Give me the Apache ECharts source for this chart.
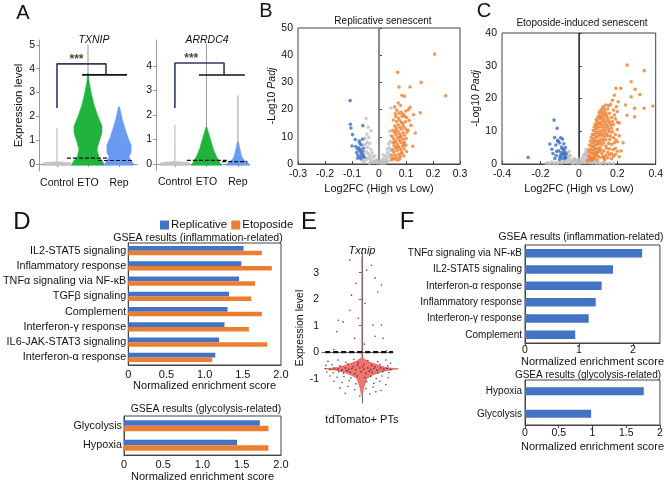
<!DOCTYPE html>
<html>
<head>
<meta charset="utf-8">
<script src="https://cdn.jsdelivr.net/npm/echarts@6/dist/echarts.min.js"></script>
<style>
html,body{margin:0;padding:0;background:#fff}
#main{width:666px;height:483px}
</style>
</head>
<body>
<div id="main"></div>
<script>
var FONT = 'Liberation Sans';
var BLUE = '#4472C4', ORANGE = '#ED7D31';

// ---- panel A : violin profiles (level, half width in category units)
var violinCats = ['Control', 'ETO', 'Rep'];
var txCtrlLv = [-0.06, 0.06, 0.1, 1.5];
var txCtrlHw = [0.45, 0.45, 0.01, 0.008];
var txEtoLv = [-0.05, 0.1, 0.3, 0.6, 0.9, 1.3, 1.6, 2.0, 2.5, 3.0, 3.5, 3.8];
var txEtoHw = [0.52, 0.48, 0.35, 0.29, 0.35, 0.45, 0.45, 0.32, 0.19, 0.1, 0.03, 0.016];
var txRepLv = [-0.05, 0.1, 0.3, 0.5, 0.8, 1.1, 1.5, 1.9, 2.4];
var txRepHw = [0.48, 0.42, 0.32, 0.39, 0.39, 0.29, 0.19, 0.1, 0.016];
var arCtrlLv = [-0.06, 0.06, 0.1, 1.6];
var arCtrlHw = [0.45, 0.45, 0.01, 0.008];
var arEtoLv = [-0.05, 0.1, 0.3, 0.6, 1.0, 1.3, 1.5];
var arEtoHw = [0.48, 0.41, 0.32, 0.22, 0.13, 0.06, 0.016];
var arRepLv = [-0.05, 0.05, 0.2, 0.4, 0.7, 0.9];
var arRepHw = [0.38, 0.32, 0.16, 0.1, 0.05, 0.016];
// tails [x, from, to]
var txTails = [[2, 3.5, 5.0]];
var arTails = [[2, 1.4, 4.9], [3, 0.8, 2.8]];
// brackets
var txBracket = [[1, 2.35], [1, 4.2], [2.58, 4.2], [2.58, 3.74]];
var txBar = [[1.81, 3.74], [3.26, 3.74]];
var arBracket = [[1, 2.29], [1, 4.12], [2.56, 4.12], [2.56, 3.63]];
var arBar = [[1.76, 3.63], [3.22, 3.63]];
var txStars = [1.63, 4.38];
var arStars = [1.52, 4.3];
// medians
var txEtoMed = [[1.32, 0.25], [2.65, 0.25]];
var txRepMed = [[2.32, 0.15], [3.45, 0.15]];
var arEtoMed = [[1.38, 0.15], [2.65, 0.15]];
var arRepMed = [[2.5, 0.1], [3.3, 0.1]];

// ---- panel B : replicative volcano
var bBlue = [[-0.107,23.3],[-0.106,14.6],[-0.104,13.2],[-0.06,14.1],[-0.098,10.8],[-0.088,9.0],[-0.073,8.4],[-0.061,9.1],[-0.1,6.6],[-0.086,6.4],[-0.083,4.2],[-0.08,5.5],[-0.078,3.2],[-0.075,6.0],[-0.072,4.8],[-0.07,2.6],[-0.068,5.3],[-0.066,3.9],[-0.064,7.0],[-0.062,2.9],[-0.06,4.6],[-0.058,3.4],[-0.057,5.8],[-0.055,2.4],[-0.071,7.5],[-0.079,2.1],[-0.067,1.9]];
var bGray = [[-0.048,16.7],[-0.04,13.5],[-0.045,11.0],[-0.03,12.2],[-0.052,9.5],[-0.044,8.0],[-0.038,9.8],[-0.05,7.2],[-0.042,6.1],[-0.035,7.5],[-0.03,5.2],[-0.047,4.5],[-0.04,3.8],[-0.033,3.0],[-0.025,4.1],[-0.05,2.5],[-0.045,1.6],[-0.038,2.2],[-0.03,1.5],[-0.022,2.6],[-0.018,1.2],[-0.012,0.8],[-0.008,1.6],[-0.005,0.4],[0,0.9],[0.004,0.5],[0.008,1.3],[0.012,0.7],[0.016,2.0],[0.02,1.1],[0.024,3.0],[0.028,1.8],[0.032,4.2],[0.035,2.6],[0.038,6.0],[0.04,3.5],[0.042,8.3],[0.043,5.0],[0.036,7.4],[0.03,5.5],[0.044,10.5],[0.04,12.0],[0.044,20.6],[0.02,0.3],[-0.02,0.5],[0.01,0.2],[-0.015,2.9],[-0.028,0.7],[0.026,0.5],[0.034,1.0],[0.045,2.0],[-0.055,0.8],[-0.06,1.2],[0.015,3.4],[-0.035,0.3]];
var bOrange = [[0.206,40.4],[0.069,33.7],[0.074,28.3],[0.115,28.3],[0.156,30.0],[0.247,25.1],[0.094,24.9],[0.071,22.4],[0.115,20.8],[0.109,20],[0.153,18.8],[0.128,18.1],[0.096,17.5],[0.088,14.8],[0.134,11.4],[0.125,6.5],[0.08,21.5],[0.082,19.0],[0.09,18.3],[0.1,19.5],[0.103,17.0],[0.112,16.0],[0.098,15.5],[0.118,14.2],[0.107,12.5],[0.085,25.3],[0.058,21.0],[0.062,17.5],
[0.048,3.1],[0.05,5.2],[0.052,7.8],[0.049,10.1],[0.051,12.4],[0.053,2.0],[0.055,4.4],[0.056,6.7],[0.054,9.3],[0.057,11.6],[0.058,14.0],[0.06,3.3],[0.061,5.9],[0.062,8.5],[0.063,10.8],[0.064,13.1],[0.065,15.6],[0.066,2.4],[0.067,4.9],[0.068,7.2],[0.069,9.7],[0.07,12.0],[0.071,14.4],[0.072,16.8],[0.073,3.6],[0.074,6.1],[0.075,8.6],[0.076,11.0],[0.077,13.5],[0.078,15.9],[0.079,2.8],[0.08,5.3],[0.081,7.9],[0.082,10.3],[0.083,12.8],[0.084,15.2],[0.085,17.6],[0.086,4.2],[0.087,6.6],[0.088,9.1],[0.089,11.5],[0.09,13.9],[0.092,3.0],[0.093,5.6],[0.094,8.0],[0.095,10.6],[0.097,13.0],[0.099,6.9],[0.1,9.4],[0.102,4.6],[0.104,11.8],[0.047,1.5],[0.059,1.8],[0.07,1.4],[0.077,1.9],[0.053,16.2],[0.06,18.5],[0.066,19.8],[0.074,18.7],[0.062,12.2],[0.058,8.0],[0.07,6.3],[0.078,9.8],[0.083,4.0],[0.091,7.4]];

// ---- panel C : etoposide volcano
var cBlue = [[-0.264,2.0],[-0.129,13.4],[-0.113,10.9],[-0.126,8.1],[-0.151,6.1],[-0.14,4.5],[-0.135,3.2],[-0.12,5.8],[-0.118,2.6],[-0.11,7.2],[-0.105,4.0],[-0.1,6.4],[-0.098,2.2],[-0.095,8.0],[-0.092,3.5],[-0.09,5.2],[-0.088,1.8],[-0.085,7.6],[-0.083,2.9],[-0.08,4.4],[-0.078,6.2],[-0.076,1.6],[-0.074,3.8],[-0.072,2.4],[-0.07,5.0],[-0.068,1.9],[-0.066,3.1],[-0.1,1.4],[-0.115,3.9],[-0.125,1.7],[-0.108,6.9],[-0.087,4.7],[-0.094,2.7],[-0.079,3.3],[-0.071,2.0]];
var cGray = [[-0.16,0.3],[-0.14,0.6],[-0.12,0.4],[-0.1,0.8],[-0.09,0.3],[-0.08,0.7],[-0.07,1.0],[-0.06,0.5],[-0.055,1.5],[-0.05,2.3],[-0.045,0.8],[-0.04,1.2],[-0.035,0.4],[-0.03,0.9],[-0.025,1.6],[-0.02,0.5],[-0.015,1.1],[-0.01,0.3],[-0.005,0.7],[0,0.2],[0.005,0.6],[0.01,1.2],[0.015,0.4],[0.02,1.8],[0.025,0.9],[0.03,2.5],[0.035,1.4],[0.04,3.2],[0.045,0.7],[0.05,1.1],[0.055,0.4],[0.06,0.8],[0.07,0.3],[0.08,0.6],[0.09,0.2],[0.1,0.5],[0.12,0.3],[0.14,0.2],[-0.062,2.8],[-0.058,3.6],[-0.05,3.9],[-0.045,2.6],[0.038,4.5],[0.035,3.6],[0.025,2.7],[-0.11,0.1],[-0.13,0.1],[0.11,0.1],[-0.15,0.1],[0.065,1.2],[0.075,1.0],[0.03,0.4],[-0.03,0.1],[0.045,2.1],[0.16,0.2],[0.18,0.1],[-0.17,0.2],[0.13,0.6],[-0.02,1.3],[0.0,1.5]];
var cOrange = [[0.251,30.2],[0.34,28.5],[0.272,25.1],[0.218,23.1],[0.193,23.1],[0.293,22.8],[0.318,21.2],[0.272,20.5],[0.385,17.7],[0.243,18],[0.29,17],[0.34,17],[0.251,14.9],[0.29,14.4],[0.193,7.3],
[0.045,1.0],[0.05,2.5],[0.05,4.2],[0.055,1.5],[0.055,3.6],[0.055,5.8],[0.06,2.2],[0.06,4.6],[0.06,7.0],[0.065,1.2],[0.065,3.3],[0.065,5.5],[0.065,8.1],[0.07,2.0],[0.07,4.1],[0.07,6.4],[0.07,9.0],[0.075,1.5],[0.075,3.2],[0.075,5.3],[0.075,7.5],[0.075,10.2],[0.08,2.5],[0.08,4.6],[0.08,6.8],[0.08,9.0],[0.08,11.3],[0.085,1.8],[0.085,3.7],[0.085,5.9],[0.085,8.1],[0.085,10.4],[0.085,12.2],[0.09,2.8],[0.09,4.9],[0.09,7.1],[0.09,9.5],[0.09,11.8],[0.09,13.6],[0.095,3.5],[0.095,6.0],[0.095,8.4],[0.095,10.9],[0.095,13.0],[0.1,2.4],[0.1,4.5],[0.1,6.9],[0.1,9.6],[0.1,12.2],[0.1,14.5],[0.105,3.8],[0.105,6.2],[0.105,8.8],[0.105,11.3],[0.105,13.9],[0.105,15.8],[0.11,5.0],[0.11,7.6],[0.11,10.1],[0.11,12.7],[0.11,15.0],[0.115,4.2],[0.115,6.8],[0.115,9.4],[0.115,12.0],[0.115,14.3],[0.115,16.6],[0.12,5.9],[0.12,8.6],[0.12,11.2],[0.12,13.7],[0.12,16.0],[0.125,7.5],[0.125,10.2],[0.125,12.8],[0.125,15.3],[0.125,17.5],[0.13,6.5],[0.13,9.2],[0.13,11.9],[0.13,14.6],[0.13,17.0],[0.135,8.3],[0.135,11.0],[0.135,13.6],[0.135,16.2],[0.14,7.4],[0.14,10.1],[0.14,12.8],[0.14,15.4],[0.14,18.0],[0.145,9.2],[0.145,12.0],[0.145,14.7],[0.15,8.6],[0.15,11.3],[0.15,14.0],[0.15,16.8],[0.155,10.5],[0.155,13.2],[0.16,9.8],[0.16,12.6],[0.16,15.5],[0.165,11.8],[0.17,10.9],[0.17,14.2],[0.175,13.0],[0.18,12.0],[0.18,16.5],[0.185,15.0],[0.19,13.8],[0.195,17.5],[0.2,16.0],[0.165,18.2],[0.175,19.5],[0.185,21.0],[0.205,19.0],[0.155,17.8],[0.16,7.5],[0.2,10.5],[0.18,8.0],[0.19,4.8],[0.17,6.0],[0.23,6.5],[0.21,12.5],[0.14,5.5],[0.12,3.2],[0.13,4.0],[0.095,1.2],[0.11,2.0],
[0.13,1.8],[0.14,2.6],[0.15,3.5],[0.15,1.9],[0.16,2.8],[0.16,4.6],[0.17,3.2],[0.17,1.6],[0.18,2.4],[0.18,4.4],[0.185,6.5],[0.19,2.9],[0.2,3.8],[0.2,6.8],[0.21,2.2],[0.125,2.3],[0.135,1.4],[0.145,4.8],[0.155,6.3],[0.165,8.5],[0.175,9.8],[0.19,9.0],[0.2,12.8],[0.21,8.6],[0.22,4.0]];

// ---- panel D : GSEA bars
var dCats = ['IL2-STAT5 signaling', 'Inflammatory response', 'TNFα signaling via NF-κB', 'TGFβ signaling', 'Complement', 'Interferon-γ response', 'IL6-JAK-STAT3 signaling', 'Interferon-α response'];
var dRep = [1.51, 1.48, 1.45, 1.32, 1.30, 1.26, 1.19, 1.14];
var dEto = [1.75, 1.88, 1.66, 1.61, 1.75, 1.58, 1.82, 1.10];
var dGlyCats = ['Glycolysis', 'Hypoxia'];
var dGlyRep = [1.73, 1.44];
var dGlyEto = [1.84, 1.84];

// ---- panel E : Txnip violin in tdTomato+ PTs
var eLv = [-1.6, -1.4, -1.2, -1.0, -0.9, -0.8, -0.7, -0.63, -0.58, -0.5, -0.42, -0.35, -0.28, -0.22];
var eHw = [0.012, 0.038, 0.075, 0.125, 0.22, 0.375, 0.6, 0.92, 0.6, 0.42, 0.28, 0.15, 0.075, 0.025];
var eTail = [[0, -0.2, 3.6]];
var eMed = [[-0.92, 0], [0.78, 0]];
var eCells = [[-0.3,3.47],[0.24,3.28],[0.33,2.8],[0.49,2.53],[0.4,2.27],[-0.26,2.15],[0.08,1.84],[-0.3,1.58],[-0.09,1.28],[-0.59,1.2],[-0.47,1.14],[0.28,1.02],[0.49,1.02],[-0.63,0.77],[0.33,0.6],[0.53,0.52],[-0.18,0.52],[0.12,3.1],[-0.15,2.6],[0.06,0.3],[-0.7,0.1],[0.62,0.05],
[-0.85,-0.35],[-0.6,-0.3],[-0.4,-0.38],[-0.2,-0.28],[0.15,-0.32],[0.4,-0.36],[0.6,-0.3],[0.72,-0.42],
[-0.9,-0.5],[-0.75,-0.48],[-0.55,-0.52],[-0.35,-0.45],[-0.1,-0.5],[0.05,-0.46],[0.25,-0.5],[0.45,-0.47],[0.65,-0.52],
[-0.92,-0.62],[-0.8,-0.66],[-0.7,-0.6],[-0.6,-0.64],[-0.5,-0.68],[-0.42,-0.6],[-0.33,-0.65],[-0.25,-0.62],[-0.15,-0.67],[-0.05,-0.6],[0.05,-0.64],[0.15,-0.6],[0.22,-0.66],[0.3,-0.62],[0.38,-0.68],[0.47,-0.6],[0.55,-0.65],[0.63,-0.62],[0.72,-0.66],
[-0.88,-0.75],[-0.72,-0.78],[-0.58,-0.74],[-0.46,-0.8],[-0.3,-0.76],[-0.18,-0.82],[-0.02,-0.74],[0.1,-0.8],[0.26,-0.76],[0.4,-0.8],[0.52,-0.74],[0.68,-0.78],
[-0.8,-0.9],[-0.62,-0.95],[-0.45,-0.92],[-0.28,-0.98],[-0.12,-0.9],[0.08,-0.96],[0.22,-0.92],[0.36,-1.0],[0.5,-0.9],[0.66,-0.97],
[-0.7,-1.1],[-0.5,-1.15],[-0.32,-1.08],[-0.15,-1.2],[0.12,-1.12],[0.3,-1.18],[0.45,-1.1],[0.6,-1.22],
[-0.55,-1.35],[-0.35,-1.3],[-0.18,-1.42],[0.1,-1.38],[0.28,-1.32],[0.48,-1.45],[-0.42,-1.55],[0.2,-1.58],[-0.05,-1.65],[0.35,-1.5],
[-0.1,-0.4],[0.02,-0.55],[-0.22,-0.55],[0.18,-0.72],[-0.38,-0.7],[0.33,-0.55]];

// ---- panel F : GSEA bars (single group)
var fCats = ['TNFα signaling via NF-κB', 'IL2-STAT5 signaling', 'Interferon-α response', 'Inflammatory response', 'Interferon-γ response', 'Complement'];
var fVals = [2.17, 1.63, 1.42, 1.31, 1.18, 0.93];
var fGlyCats = ['Hypoxia', 'Glycolysis'];
var fGlyVals = [1.76, 0.98];

var myChart = echarts.init(document.getElementById('main'));

function violin(xi, x, lv, hw, fill, stroke) {
	return {
		type: 'custom', coordinateSystem: 'cartesian2d', xAxisIndex: xi, yAxisIndex: xi,
		data: [[x, lv[0]]], silent: true, z: 3,
		renderItem: function (params, api) {
			var pts = [];
			for (var i = 0; i < lv.length; i++) pts.push(api.coord([x + hw[i], lv[i]]));
			for (var j = lv.length - 1; j >= 0; j--) pts.push(api.coord([x - hw[j], lv[j]]));
			return { type: 'polygon', shape: { points: pts }, style: { fill: fill, stroke: stroke || fill, lineWidth: 0.6 } };
		}
	};
}
function segs(xi, list, color, w) {
	return list.map(function (t) {
		return { type: 'line', xAxisIndex: xi, yAxisIndex: xi, data: [[t[0], t[1]], [t[0], t[2]]], symbol: 'none', silent: true, z: 2, lineStyle: { color: color, width: w } };
	});
}
function path(xi, pts, color, w, dash, z) {
	return { type: 'line', xAxisIndex: xi, yAxisIndex: xi, data: pts, symbol: 'none', silent: true, z: z || 4, lineStyle: { color: color, width: w, type: dash || 'solid' } };
}
function medLine(xi, pts, txt, pos, off) {
	var s = path(xi, pts, '#111', 1.2, [4, 2], 5);
	var idx = pos === 'end' ? pts.length - 1 : 0;
	s.data = pts.map(function (p, i) {
		return i === idx ? { value: p, label: { show: true, formatter: txt, position: 'top', offset: off, fontSize: 10.5, fontFamily: FONT, color: '#111' } } : p;
	});
	return s;
}
function stars(xi, p) {
	return { type: 'scatter', xAxisIndex: xi, yAxisIndex: xi, data: [p], symbolSize: 0, silent: true,
		label: { show: true, formatter: '***', position: 'inside', fontSize: 12, fontWeight: 'bold', fontFamily: FONT, color: '#111' } };
}
function dots(xi, pts, color, size) {
	return { type: 'scatter', xAxisIndex: xi, yAxisIndex: xi, data: pts, symbolSize: size, silent: true, itemStyle: { color: color }, z: 4 };
}

var axisText = { fontFamily: FONT, color: '#111', fontSize: 10.5 };
function lin(c) { return { show: true, lineStyle: { color: c || '#444', width: 1 } }; }

var grids = [
	{ left: 39, top: 40, width: 98, height: 131 },   // A TXNIP
	{ left: 156, top: 40, width: 92, height: 130 },  // A ARRDC4
	{ left: 298, top: 28, width: 162, height: 136 }, // B
	{ left: 502, top: 33, width: 159, height: 131 }, // C
	{ left: 124, top: 243, width: 157, height: 122 },// D inflammation
	{ left: 124, top: 416, width: 157, height: 43 }, // D glycolysis
	{ left: 322, top: 253, width: 71, height: 150 }, // E
	{ left: 525, top: 245, width: 137, height: 98 }, // F inflammation
	{ left: 525, top: 380, width: 137, height: 45 }  // F glycolysis
];
[2, 3, 4, 5, 7, 8].forEach(function (i) { grids[i].show = true; grids[i].borderColor = '#444'; grids[i].borderWidth = 1; });

var catFmt = function (v) { return violinCats[Math.round(v) - 1]; };
var oneDec = function (v) { return v === 0 ? '0' : v.toFixed(1); };

var xAxes = [
	{ gridIndex: 0, type: 'value', min: 0.42, max: 3.58, splitLine: { show: false }, axisLine: lin('#999'),
		axisTick: { show: true, customValues: [1, 2, 3], length: 3, lineStyle: { color: '#999' } },
		axisLabel: Object.assign({}, axisText, { customValues: [1, 2, 3], formatter: catFmt, margin: 7, fontSize: 10.5 }) },
	{ gridIndex: 1, type: 'value', min: 0.4, max: 3.32, splitLine: { show: false }, axisLine: lin('#999'),
		axisTick: { show: true, customValues: [1, 2, 3], length: 3, lineStyle: { color: '#999' } },
		axisLabel: Object.assign({}, axisText, { customValues: [1, 2, 3], formatter: catFmt, margin: 7, fontSize: 10.5 }) },
	{ gridIndex: 2, type: 'value', min: -0.3, max: 0.3, interval: 0.1, splitLine: { show: false }, axisLine: lin(),
		axisTick: { show: true, inside: true, length: 3 }, axisLabel: Object.assign({ margin: 5 }, axisText),
		name: 'Log2FC (High vs Low)', nameLocation: 'middle', nameGap: 19, nameTextStyle: Object.assign({}, axisText, { fontSize: 11 }) },
	{ gridIndex: 3, type: 'value', min: -0.4, max: 0.4, interval: 0.2, splitLine: { show: false }, axisLine: lin(),
		axisTick: { show: true, inside: true, length: 3 }, axisLabel: Object.assign({ margin: 5 }, axisText),
		name: 'Log2FC (High vs Low)', nameLocation: 'middle', nameGap: 19, nameTextStyle: Object.assign({}, axisText, { fontSize: 11 }) },
	{ gridIndex: 4, type: 'value', min: 0, max: 2, interval: 0.5, splitLine: { show: false }, axisLine: lin(),
		axisTick: { show: false }, axisLabel: Object.assign({}, axisText, { margin: 4, formatter: oneDec, fontSize: 11 }),
		name: 'Normalized enrichment score', nameLocation: 'middle', nameGap: 15, nameTextStyle: Object.assign({}, axisText, { fontSize: 11 }) },
	{ gridIndex: 5, type: 'value', min: 0, max: 2, interval: 0.5, splitLine: { show: false }, axisLine: lin(),
		axisTick: { show: false }, axisLabel: Object.assign({}, axisText, { margin: 4, formatter: oneDec, fontSize: 11 }),
		name: 'Normalized enrichment score', nameLocation: 'middle', nameGap: 14, nameTextStyle: Object.assign({}, axisText, { fontSize: 11 }) },
	{ gridIndex: 6, type: 'value', min: -1, max: 0.78, splitLine: { show: false }, axisLine: lin('#666'),
		axisTick: { show: true, customValues: [0], length: 3 },
		axisLabel: Object.assign({}, axisText, { customValues: [0], formatter: function () { return 'tdTomato+ PTs'; }, margin: 11, fontSize: 11 }) },
	{ gridIndex: 7, type: 'value', min: 0, max: 2.5, splitLine: { show: false }, axisLine: lin(),
		axisTick: { show: true, customValues: [0, 1, 2], length: 3 }, axisLabel: Object.assign({ customValues: [0, 1, 2], margin: 2 }, axisText),
		name: 'Normalized enrichment score', nameLocation: 'middle', nameGap: 12, nameTextStyle: Object.assign({}, axisText, { fontSize: 11 }) },
	{ gridIndex: 8, type: 'value', min: 0, max: 2, interval: 0.5, splitLine: { show: false }, axisLine: lin(),
		axisTick: { show: true, length: 3 }, axisLabel: Object.assign({ margin: 3 }, axisText),
		name: 'Normalized enrichment score', nameLocation: 'middle', nameGap: 16, nameTextStyle: Object.assign({}, axisText, { fontSize: 11 }) }
];

var padjName = '-Log10 {i|Padj}';
var padjStyle = Object.assign({}, axisText, { fontSize: 10.5, rich: { i: { fontStyle: 'italic', fontFamily: FONT, fontSize: 10.5, color: '#111' } } });
var yAxes = [
	{ gridIndex: 0, type: 'value', min: -0.29, max: 5.2, splitLine: { show: false }, axisLine: lin('#999'),
		axisTick: { show: true, customValues: [0, 1, 2, 3, 4, 5], length: 3, lineStyle: { color: '#999' } },
		axisLabel: Object.assign({ customValues: [0, 1, 2, 3, 4, 5], margin: 4 }, axisText),
		name: 'Expression level', nameLocation: 'middle', nameGap: 12, nameTextStyle: Object.assign({}, axisText, { fontSize: 11.5 }) },
	{ gridIndex: 1, type: 'value', min: -0.245, max: 5.06, splitLine: { show: false }, axisLine: lin('#999'),
		axisTick: { show: true, customValues: [0, 1, 2, 3, 4], length: 3, lineStyle: { color: '#999' } },
		axisLabel: Object.assign({ customValues: [0, 1, 2, 3, 4], margin: 4 }, axisText) },
	{ gridIndex: 2, type: 'value', min: 0, max: 50, interval: 10, splitLine: { show: false }, axisLine: lin(),
		axisTick: { show: true, inside: true, length: 3 }, axisLabel: Object.assign({ margin: 5 }, axisText),
		name: padjName, nameLocation: 'middle', nameGap: 20, nameTextStyle: padjStyle },
	{ gridIndex: 3, type: 'value', min: 0, max: 40, interval: 10, splitLine: { show: false }, axisLine: lin(),
		axisTick: { show: true, inside: true, length: 3 }, axisLabel: Object.assign({ margin: 5 }, axisText),
		name: padjName, nameLocation: 'middle', nameGap: 14, nameTextStyle: padjStyle },
	{ gridIndex: 4, type: 'category', inverse: true, data: dCats, axisLine: lin(), axisTick: { show: false },
		axisLabel: Object.assign({}, axisText, { margin: 2, fontSize: 10.8 }) },
	{ gridIndex: 5, type: 'category', inverse: true, data: dGlyCats, axisLine: lin(), axisTick: { show: false },
		axisLabel: Object.assign({}, axisText, { margin: 2, fontSize: 10.8 }) },
	{ gridIndex: 6, type: 'value', min: -1.92, max: 3.74, splitLine: { show: false }, axisLine: lin('#666'),
		axisTick: { show: true, customValues: [-1, 0, 1, 2, 3], length: 3 },
		axisLabel: Object.assign({ customValues: [-1, 0, 1, 2, 3], margin: 3 }, axisText),
		name: 'Expression level', nameLocation: 'middle', nameGap: 6, nameTextStyle: Object.assign({}, axisText, { fontSize: 10.5 }) },
	{ gridIndex: 7, type: 'category', inverse: true, data: fCats, axisLine: lin(), axisTick: { show: false },
		axisLabel: Object.assign({}, axisText, { margin: 3, fontSize: 10 }) },
	{ gridIndex: 8, type: 'category', inverse: true, data: fGlyCats, axisLine: lin(), axisTick: { show: false },
		axisLabel: Object.assign({}, axisText, { margin: 3, fontSize: 10 }) }
];

var GREEN = '#20B33D', LBLUE = '#6A9BF2', GRAY = '#C4C4C4', NAVY = '#2E3A66';
var series = [];
// A: TXNIP
series = series.concat(segs(0, txTails, '#9a9a9a', 1));
series.push(violin(0, 1, txCtrlLv, txCtrlHw, GRAY), violin(0, 2, txEtoLv, txEtoHw, GREEN), violin(0, 3, txRepLv, txRepHw, LBLUE));
series.push(path(0, txBracket, NAVY, 1.6), path(0, txBar, '#111', 1.6), stars(0, txStars));
series.push(medLine(0, txEtoMed, '0.25', 'start', [4, 1]), medLine(0, txRepMed, '0.15', 'end', [10, 8]));
// A: ARRDC4
series = series.concat(segs(1, arTails, '#9a9a9a', 1));
series.push(violin(1, 1, arCtrlLv, arCtrlHw, GRAY), violin(1, 2, arEtoLv, arEtoHw, GREEN), violin(1, 3, arRepLv, arRepHw, LBLUE));
series.push(path(1, arBracket, NAVY, 1.6), path(1, arBar, '#111', 1.6), stars(1, arStars));
series.push(medLine(1, arEtoMed, '0.15', 'start', [0, 1]), medLine(1, arRepMed, '0.1', 'end', [-2, 1]));
// B
series.push(dots(2, bGray, '#BEBEBE', 3.6), dots(2, bBlue, '#3C6FC2', 3.6), dots(2, bOrange, '#EF7F2F', 3.6));
series.push(path(2, [[0, 0], [0, 50]], '#8a8a8a', 2, 'solid', 3));
// C
series.push(dots(3, cGray, '#BEBEBE', 3.6), dots(3, cBlue, '#3C6FC2', 3.6), dots(3, cOrange, '#EF7F2F', 3.6));
series.push(path(3, [[0, 0], [0, 40]], '#222', 1, 'solid', 3));
// D
function bar(xi, name, vals, color, w) {
	return { type: 'bar', name: name, xAxisIndex: xi, yAxisIndex: xi, data: vals, barWidth: w, barGap: '0%', itemStyle: { color: color }, silent: true };
}
series.push(bar(4, 'Replicative', dRep, BLUE, 4.6), bar(4, 'Etoposide', dEto, ORANGE, 4.6));
series.push(bar(5, 'Replicative', dGlyRep, BLUE, 5.5), bar(5, 'Etoposide', dGlyEto, ORANGE, 5.5));
// E
series = series.concat(segs(6, eTail, '#E0605E', 1));
series.push(violin(6, 0, eLv, eHw, '#F27470', '#D9524F'));
series.push(dots(6, eCells, '#1a1a1a', 1.6));
var eMedS = medLine(6, eMed, '0', 'end', [-6, 2]);
eMedS.lineStyle.width = 2.2; eMedS.lineStyle.type = [5, 3];
eMedS.data[1].label.fontSize = 12;
series.push(eMedS);
// F
series.push(bar(7, 'F', fVals, BLUE, 8.5), bar(8, 'F2', fGlyVals, BLUE, 8));

function txt(s, x, y, size, opt) {
	return { type: 'text', x: x, y: y, silent: true,
		style: Object.assign({ text: s, fontFamily: FONT, fontSize: size, fill: '#111', align: 'center', verticalAlign: 'middle' }, opt || {}) };
}
var graphics = [
	txt('A', 23, 13, 20), txt('B', 266, 11, 20), txt('C', 484, 11, 20),
	txt('D', 22, 222, 24), txt('E', 309, 222, 24), txt('F', 407, 222, 24),
	txt('TXNIP', 94, 40, 10.5, { fontStyle: 'italic' }), txt('ARRDC4', 207, 40, 10.5, { fontStyle: 'italic' }),
	txt('Replicative senescent', 383, 21, 10), txt('Etoposide-induced senescent', 582, 23, 10),
	txt('GSEA results (inflammation-related)', 198, 238, 10.6), txt('GSEA results (glycolysis-related)', 206, 409, 10.3),
	txt('Txnip', 362, 251, 11, { fontStyle: 'italic' }),
	txt('GSEA results (inflammation-related)', 581, 237, 10.3), txt('GSEA results (glycolysis-related)', 588, 375, 10)
];

myChart.setOption({
	animation: false,
	backgroundColor: '#fff',
	textStyle: { fontFamily: FONT },
	legend: { data: ['Replicative', 'Etoposide'], left: 160, top: 219, padding: 0, itemWidth: 9, itemHeight: 9, itemGap: 4, icon: 'rect',
		textStyle: { fontFamily: FONT, fontSize: 11.5, color: '#111', padding: [0, 0, 0, -3] } },
	grid: grids,
	xAxis: xAxes,
	yAxis: yAxes,
	series: series,
	graphic: graphics
});
</script>
</body>
</html>
